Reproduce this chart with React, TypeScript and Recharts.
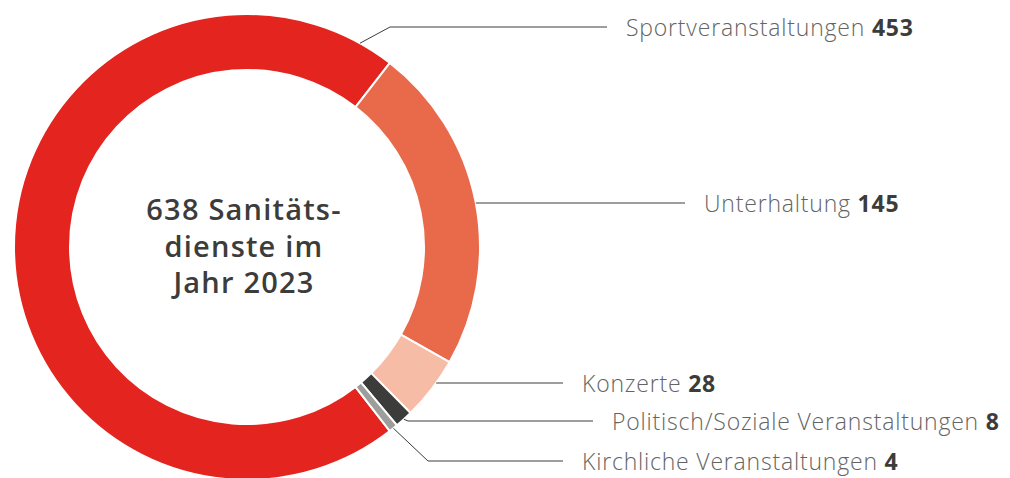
import { Cell, Label, Pie, PieChart } from "recharts";

const categories = [
  "Sportveranstaltungen",
  "Unterhaltung",
  "Konzerte",
  "Politisch/Soziale Veranstaltungen",
  "Kirchliche Veranstaltungen",
];
const einsaetze = [453, 145, 28, 8, 4];
const colors = ["#e3241f", "#e9694b", "#f7bca6", "#3c3c3b", "#9d9d9c"];
const centerLines = ["638 Sanitäts-", "dienste im", "Jahr 2023"];

const PIE_CX = 247;
const PIE_CY = 247;

// leader lines: y of the horizontal part, optional elbow, end of line
const labelLayout = [
  { anchorAngle: 61, y: 27, elbowX: 390, endX: 607 },
  { anchorAngle: null, y: 203, elbowX: null, endX: 685 },
  { anchorAngle: null, y: 383, elbowX: null, endX: 563 },
  { anchorAngle: null, y: 421, elbowX: 408, endX: 593 },
  { anchorAngle: null, y: 461, elbowX: 428, endX: 563 },
];

const data = categories.map((name, i) => ({ name, value: einsaetze[i] }));

const RAD = Math.PI / 180;

function renderLabel(props: any) {
  const { cx, cy, midAngle, outerRadius, index, name, value } = props;
  const layout = labelLayout[index];
  let sx: number;
  let sy: number;
  if (layout.elbowX == null) {
    // straight line: start on the ring edge at the label's height
    sy = layout.y;
    sx = cx + Math.sqrt(outerRadius * outerRadius - (sy - cy) * (sy - cy));
  } else {
    const angle = layout.anchorAngle ?? midAngle;
    sx = cx + outerRadius * Math.cos(-angle * RAD);
    sy = cy + outerRadius * Math.sin(-angle * RAD);
  }
  const ex = layout.elbowX ?? sx;
  const ey = layout.y;
  const points = `${sx},${sy} ${ex},${ey} ${layout.endX},${ey}`;
  return (
    <g key={`label-${index}`}>
      <polyline points={points} fill="none" stroke="#3c3c3b" strokeWidth={1} />
      <text
        x={layout.endX + 19}
        y={ey}
        dominantBaseline="central"
        fontFamily="'Open Sans', sans-serif"
        fontSize={23}
        letterSpacing={0.8}
      >
        <tspan fill="#646463" fontWeight={300}>
          {name}{" "}
        </tspan>
        <tspan fill="#3c3c3b" fontWeight={700}>
          {value}
        </tspan>
      </text>
    </g>
  );
}

function CenterText() {
  const x = PIE_CX - 3;
  return (
    <text
      x={x}
      y={220}
      textAnchor="middle"
      fontFamily="'Open Sans', sans-serif"
      fontSize={29}
      fontWeight={600}
      fill="#3c3c3b"
      letterSpacing={1.2}
    >
      {centerLines.map((line, i) => (
        <tspan key={line} x={x} dy={i === 0 ? 0 : 36.5}>
          {line}
        </tspan>
      ))}
    </text>
  );
}

export default function App() {
  return (
    <div style={{ position: "absolute", left: 0, top: 0, background: "#fff" }}>
      <PieChart
        width={1010}
        height={478}
        margin={{ top: 0, right: 0, bottom: 0, left: 0 }}
      >
        <Pie
          data={data}
          dataKey="value"
          nameKey="name"
          cx={PIE_CX}
          cy={PIE_CY}
          innerRadius={177}
          outerRadius={233}
          startAngle={-52.2}
          endAngle={-412.2}
          stroke="#fff"
          strokeWidth={2}
          label={renderLabel}
          labelLine={false}
          isAnimationActive={false}
        >
          {data.map((d, i) => (
            <Cell key={d.name} fill={colors[i]} />
          ))}
          <Label position="center" content={CenterText} />
        </Pie>
      </PieChart>
    </div>
  );
}
